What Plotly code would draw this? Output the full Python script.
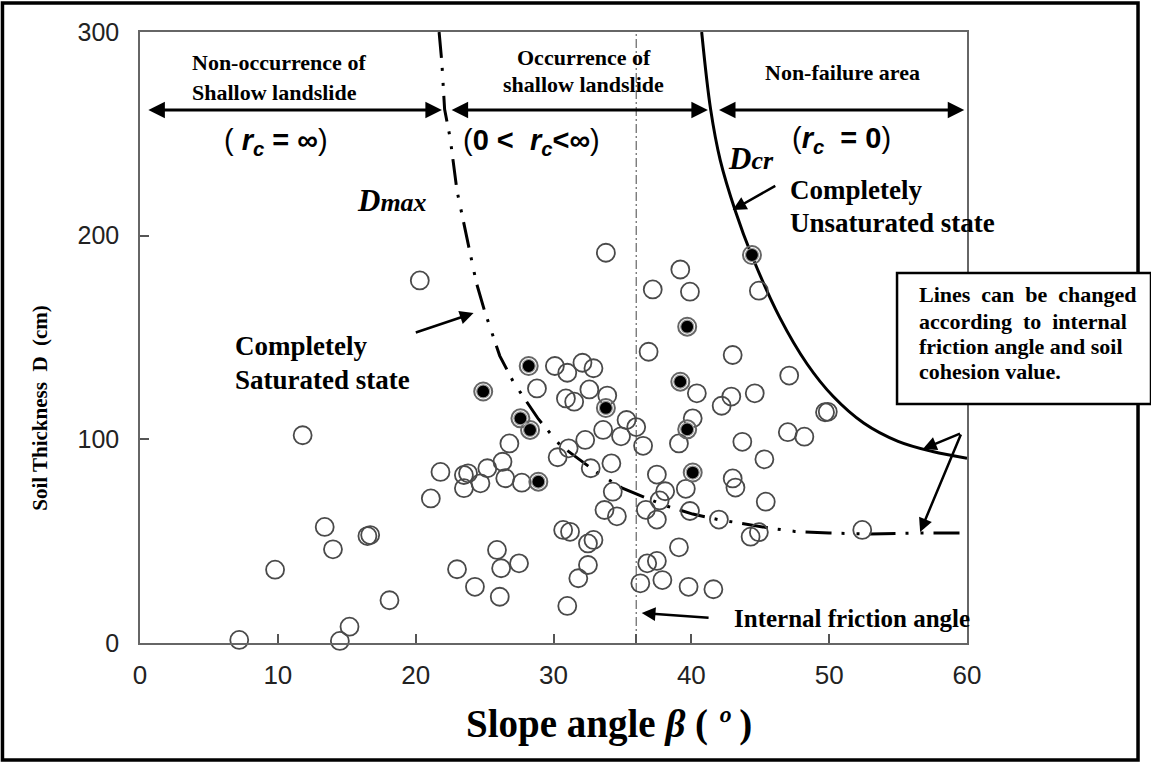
import plotly.graph_objects as go

# ---------------- data ----------------
open_x = [7.2, 9.8, 11.8, 13.4, 14.0, 14.5, 15.2, 16.5, 16.7, 18.1, 20.3, 21.1, 21.8, 23.5, 23.5, 23.8,
          24.7, 25.2, 26.5, 26.3, 26.8, 27.7, 28.8, 30.1, 31.0, 32.1, 32.9, 30.9, 31.5, 32.6, 33.9,
          35.3, 36.0, 33.6, 34.9, 32.3, 31.1, 30.3, 32.7, 34.2, 34.3, 33.7, 34.6, 36.5, 36.7, 37.5,
          37.5, 38.1, 37.7, 39.6, 39.9, 39.1, 39.8, 37.9, 36.8, 37.5, 36.3, 41.6, 36.9, 40.4, 40.1,
          39.1, 30.7, 31.2, 32.5, 32.9, 32.5, 31.8, 31.0, 25.9, 26.2, 27.5, 23.0, 24.3, 26.1, 33.8,
          39.2, 37.2, 39.9, 44.9, 43.0, 47.1, 44.6, 42.9, 42.2, 49.7, 49.9, 47.0, 48.2, 43.7, 45.3,
          43.0, 43.2, 45.4, 42.0, 44.3, 44.9, 52.4]
open_y = [1.5, 36, 102, 57, 46, 1, 8, 52.5, 53, 21, 178, 71, 84, 76, 82.5, 83.3,
          78.4, 85.8, 80.9, 89, 98, 78.7, 125, 136, 132.7, 137.6, 134.9, 120.1, 118.5, 124.5, 121.5,
          109.5, 106, 104.6, 101.5, 99.7, 95.6, 91.2, 85.8, 88.2, 74.3, 65.3, 62.2, 96.8, 65.4, 60.6,
          82.7, 74.5, 70, 75.7, 64.8, 47, 27.6, 30.9, 39.1, 40.3, 29.3, 26.4, 143, 122.6, 110.3,
          98, 55.5, 54.6, 48.9, 50.6, 38.3, 31.8, 18.2, 45.7, 36.7, 39.1, 36.2, 27.6, 22.7, 191.6,
          183.4, 173.6, 172.5, 173, 141.4, 131.3, 122.6, 121, 116.5, 113.3, 113.5, 103.5, 101.3, 98.8, 90.2,
          80.8, 76.3, 69.4, 60.6, 52.2, 54.4, 55.5]

filled_x = [24.9, 28.2, 27.6, 28.3, 28.9, 33.8, 39.2, 39.7, 39.7, 40.1, 44.4]
filled_y = [123.5, 136, 110.3, 104.6, 79.2, 115.4, 128.3, 155.3, 104.9, 83.7, 190.5]

# critical soil depth curves
dcr_x = [40.75, 41.4, 42.1, 43.2, 44.4, 46.4, 48.4, 50.3, 52.5, 55.0, 57.5, 60.0]
dcr_y = [300, 262, 237, 212, 190, 160, 137, 121, 108, 99, 94, 90.7]
dmax_x = [21.7, 21.9, 22.1, 22.5, 23.0, 23.6, 24.4, 25.0, 26.1, 27.1, 28.9, 30.5, 33.2, 35.0,
          38.0, 40.1, 42.0, 43.5, 45.6, 47.5, 50.0, 53.0, 56.7, 60.0]
dmax_y = [300, 285, 262, 248, 222, 202, 177, 163, 141, 128, 110, 97, 83.5, 76,
          67.7, 63.3, 60.5, 58.9, 56.5, 54.8, 54, 53.5, 54, 54]

friction_angle = 36
x_ticks = [0, 10, 20, 30, 40, 50, 60]
y_ticks = [0, 100, 200, 300]

SERIF = "Liberation Serif, Times New Roman, serif"
SANS = "Liberation Sans, Arial, sans-serif"

fig = go.Figure()

fig.add_trace(go.Scatter(x=[friction_angle, friction_angle], y=[0, 300], mode="lines",
                         line=dict(color="#444", width=1, dash="9px,3px,2px,3px"),
                         hoverinfo="skip", showlegend=False))
fig.add_trace(go.Scatter(x=dmax_x, y=dmax_y, mode="lines",
                         line=dict(color="black", width=3, dash="26px,10px,3px,12px,3px,10px"),
                         showlegend=False))
fig.add_trace(go.Scatter(x=dcr_x, y=dcr_y, mode="lines", line_shape="spline",
                         line=dict(color="black", width=3), showlegend=False))
fig.add_trace(go.Scatter(x=open_x, y=open_y, mode="markers", cliponaxis=False,
                         marker=dict(symbol="circle-open", size=18, color="#4a4a4a",
                                     line=dict(width=1.8)), showlegend=False))
fig.add_trace(go.Scatter(x=filled_x, y=filled_y, mode="markers", cliponaxis=False,
                         marker=dict(symbol="circle-open", size=18, color="#666",
                                     line=dict(width=2)), showlegend=False))
fig.add_trace(go.Scatter(x=filled_x, y=filled_y, mode="markers", cliponaxis=False,
                         marker=dict(symbol="circle", size=13, color="black",
                                     line=dict(width=1.2, color="#999")), showlegend=False))

ann = []


def txt(x, y, text, size, family=SERIF, xanchor="center", angle=0, ref="x"):
    ann.append(dict(x=x, y=y, xref="x" if ref == "x" else "paper",
                    yref="y" if ref == "x" else "paper", text=text, showarrow=False,
                    xanchor=xanchor, yanchor="middle", textangle=angle,
                    font=dict(family=family, size=size, color="black")))


def arrow(x, y, ax, ay, both=False, width=2.5):
    ann.append(dict(x=x, y=y, ax=ax, ay=ay, xref="x", yref="y", axref="x", ayref="y",
                    text="", showarrow=True, arrowhead=2, arrowsize=1.1, arrowwidth=width,
                    arrowcolor="black", arrowside="end+start" if both else "end",
                    startarrowhead=2, startarrowsize=1.1, standoff=0, startstandoff=0))


# region headers
txt(3.6, 284.8, "<b>Non-occurrence of</b>", 22, xanchor="left")
txt(3.6, 270.5, "<b>Shallow landslide</b>", 22, xanchor="left")
txt(32.2, 287.7, "<b>Occurrence of</b>", 22)
txt(32.2, 274.0, "<b>shallow landslide</b>", 22)
txt(51.0, 279.9, "<b>Non-failure area</b>", 22)

arrow(21.9, 261.7, 0.5, 261.7, both=True, width=3)
arrow(41.2, 261.7, 22.5, 261.7, both=True, width=3)
arrow(59.8, 261.7, 41.9, 261.7, both=True, width=3)

txt(9.9, 246, "(&nbsp;<b><i>r</i></b><sub><b><i>c</i></b></sub><b> = ∞</b>)", 29, family=SANS)
txt(28.4, 246, "(<b>0 &lt;&nbsp;&nbsp;<i>r</i></b><sub><b><i>c</i></b></sub><b>&lt;∞</b>)", 29, family=SANS)
txt(50.9, 247, "(<b><i>r</i></b><sub><b><i>c</i></b></sub><b>&nbsp;&nbsp;= 0</b>)", 29, family=SANS)

txt(18.3, 217.5, "<b><i>D<span style='font-size:26px'>max</span></i></b>", 31)
txt(44.3, 238.1, "<b><i>D<span style='font-size:26px'>cr</span></i></b>", 31)

txt(47.0, 222.4, "<b>Completely</b>", 27, xanchor="left")
txt(47.0, 206.2, "<b>Unsaturated state</b>", 27, xanchor="left")
arrow(43.0, 212.6, 46.2, 224.9)

txt(6.75, 145.8, "<b>Completely</b>", 27, xanchor="left")
txt(6.75, 129.1, "<b>Saturated state</b>", 27, xanchor="left")
arrow(24.2, 162.0, 19.9, 152.2)

txt(42.95, 11.8, "<b>Internal friction angle</b>", 25, xanchor="left")
arrow(36.4, 14.7, 41.36, 12.3)

# note box
box_lines = ["Lines&nbsp; can&nbsp; be&nbsp; changed", "according&nbsp; to&nbsp; internal",
             "friction angle and soil", "cohesion value."]
box_y = [170.9, 157.8, 145.5, 133.2]
for t, yy in zip(box_lines, box_y):
    txt(56.37, yy, "<b>" + t + "</b>", 22, xanchor="left")
arrow(56.8, 95.3, 59.6, 103.1)
arrow(56.6, 54.5, 59.6, 103.1)

# axis titles (paper coordinates)
txt(0.567, -0.132, "<b>Slope angle <i>β</i> ( <i>º</i> )</b>", 39, ref="paper")
txt(-0.121, 0.385, "<b>Soil Thickness&nbsp;&nbsp;D&nbsp;&nbsp;(cm)</b>", 21, angle=-90, ref="paper")

shapes = [
    dict(type="rect", xref="paper", yref="paper", x0=-0.1663, x1=1.2068, y0=-0.1915, y1=1.0475,
         line=dict(color="black", width=3.5), fillcolor="rgba(0,0,0,0)", layer="above"),
    dict(type="rect", xref="paper", yref="paper", x0=0.9154, x1=1.2225, y0=0.391, y1=0.6056,
         line=dict(color="black", width=2.5), fillcolor="white", layer="above"),
]

fig.update_layout(
    width=1151, height=762,
    margin=dict(l=140, r=184, t=32, b=119),
    paper_bgcolor="white", plot_bgcolor="white",
    showlegend=False,
    annotations=ann, shapes=shapes,
    xaxis=dict(range=[0, 60], tickvals=x_ticks + [friction_angle],
               ticktext=[str(v) for v in x_ticks] + [""],
               ticks="inside", ticklen=9, tickwidth=1.5, tickcolor="#555",
               showline=True, linecolor="#666", linewidth=1.5, mirror=True,
               showgrid=False, zeroline=False, ticklabelstandoff=8,
               tickfont=dict(family=SANS, size=26, color="#222")),
    yaxis=dict(range=[0, 300], tickvals=y_ticks,
               ticks="inside", ticklen=9, tickwidth=1.5, tickcolor="#555",
               showline=True, linecolor="#666", linewidth=1.5, mirror=True,
               showgrid=False, zeroline=False, ticklabelstandoff=14,
               tickfont=dict(family=SANS, size=25, color="#222")),
)

fig.write_html("out.html")
